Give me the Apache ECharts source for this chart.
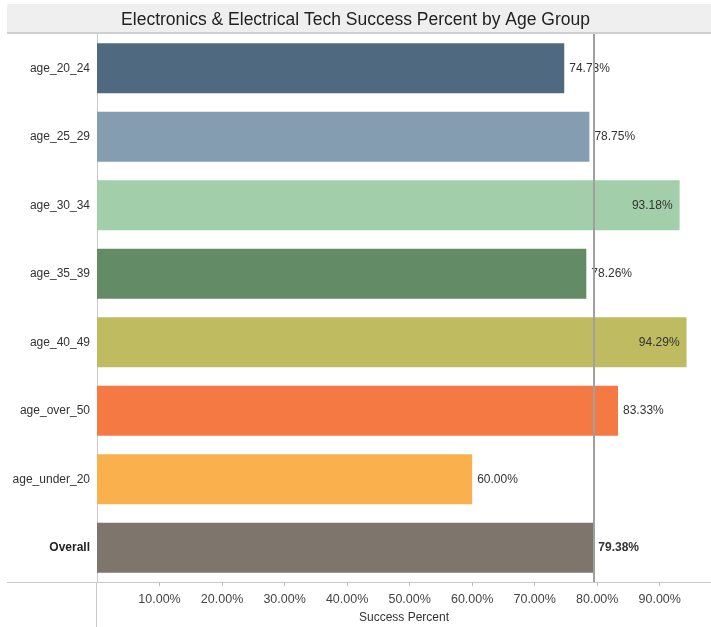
<!DOCTYPE html>
<html>
<head>
<meta charset="utf-8">
<title>Electronics & Electrical Tech Success Percent by Age Group</title>
<script src="https://cdn.jsdelivr.net/npm/echarts@6/dist/echarts.min.js"></script>
<style>
	html, body { margin: 0; padding: 0; background: #fff; }
	#chart { width: 711px; height: 627px; }
</style>
</head>
<body>
<div id="chart"></div>
<script>
	// Categories, top to bottom
	var ageGroups = ['age_20_24', 'age_25_29', 'age_30_34', 'age_35_39', 'age_40_49', 'age_over_50', 'age_under_20', 'Overall'];
	// Success percent per group
	var successPercent = [74.73, 78.75, 93.18, 78.26, 94.29, 83.33, 60.00, 79.38];
	// Overall value, drawn as the reference line
	var overallPercent = 79.38;
	var tickLabels = ['10.00%', '20.00%', '30.00%', '40.00%', '50.00%', '60.00%', '70.00%', '80.00%', '90.00%'];

	var barColors = ['#4f6980', '#849db1', '#a2ceaa', '#638b66', '#bfbb60', '#f47942', '#fbb04e', '#7e756d'];
	var font = '"Liberation Sans", Arial, Helvetica, sans-serif';

	var chart = echarts.init(document.getElementById('chart'));

	var barData = successPercent.map(function (v, i) {
		var inside = v > 90; // long bars get their label inside
		return {
			value: v,
			itemStyle: { color: barColors[i] },
			label: {
				position: inside ? 'insideRight' : 'right',
				distance: inside ? 7 : 5,
				fontWeight: ageGroups[i] === 'Overall' ? 'bold' : 'normal'
			}
		};
	});

	var option = {
		animation: false,
		textStyle: { fontFamily: font },
		title: {
			text: 'Electronics & Electrical Tech Success Percent by Age Group',
			left: 'center',
			top: 6,
			textStyle: { fontFamily: font, fontSize: 17.5, fontWeight: 'normal', color: '#222' }
		},
		graphic: [
			// header band
			{ type: 'rect', z: -1, shape: { x: 7, y: 4, width: 704, height: 28 }, style: { fill: '#efefef' } },
			{ type: 'line', shape: { x1: 7, y1: 33, x2: 711, y2: 33 }, style: { stroke: '#cfcfcf', lineWidth: 2 } },
			// axis lines extending past the plot
			{ type: 'line', shape: { x1: 7, y1: 582.5, x2: 97, y2: 582.5 }, style: { stroke: '#c8c8c8', lineWidth: 1 } },
			{ type: 'line', shape: { x1: 96.5, y1: 582, x2: 96.5, y2: 627 }, style: { stroke: '#c8c8c8', lineWidth: 1 } }
		],
		grid: { left: 97, right: 0, top: 34, bottom: 45, outerBoundsMode: 'none', containLabel: false },
		xAxis: {
			type: 'value',
			min: 0,
			max: 98.2,
			interval: 10,
			name: 'Success Percent',
			nameLocation: 'middle',
			nameGap: 30,
			nameTextStyle: { fontSize: 12, color: '#333', fontFamily: font },
			axisLine: { show: true, lineStyle: { color: '#c8c8c8' } },
			axisTick: { show: true, length: 4, lineStyle: { color: '#bbb' } },
			splitLine: { show: false },
			axisLabel: {
				showMinLabel: false,
				showMaxLabel: false,
				fontSize: 12.5,
				color: '#444',
				margin: 11,
				formatter: function (v) {
					var idx = Math.round(v / 10) - 1;
					return tickLabels[idx] || '';
				}
			}
		},
		yAxis: {
			type: 'category',
			data: ageGroups,
			inverse: true,
			axisLine: { show: true, lineStyle: { color: '#c8c8c8' } },
			axisTick: { show: false },
			axisLabel: {
				fontSize: 12,
				color: '#333',
				margin: 7,
				formatter: function (v) {
					return v === 'Overall' ? '{b|' + v + '}' : v;
				},
				rich: { b: { fontWeight: 'bold', fontSize: 12, color: '#222', fontFamily: font } }
			}
		},
		series: [
			{
				type: 'bar',
				data: barData,
				barWidth: 50,
				label: {
					show: true,
					fontSize: 12,
					color: '#333',
					fontFamily: font,
					formatter: function (p) { return p.value.toFixed(2) + '%'; }
				},
				markLine: {
					silent: true,
					symbol: 'none',
					label: { show: false },
					lineStyle: { color: '#a0a0a0', width: 2, type: 'solid' },
					data: [{ xAxis: overallPercent }]
				}
			}
		]
	};

	chart.setOption(option);
</script>
</body>
</html>
